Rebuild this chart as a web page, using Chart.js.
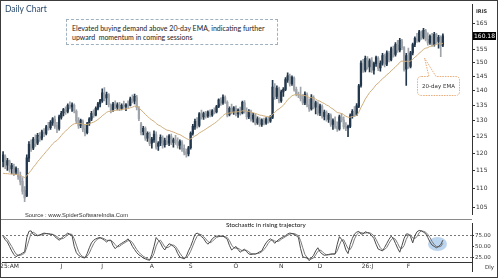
<!DOCTYPE html>
<html><head><meta charset="utf-8">
<script src="https://cdn.jsdelivr.net/npm/chart.js@4.4.1/dist/chart.umd.min.js"></script>
<style>
html,body{margin:0;padding:0;background:#fff;}
#wrap{position:relative;width:500px;height:280px;overflow:hidden;background:#fff;}
canvas{position:absolute;}
.t{position:absolute;white-space:nowrap;line-height:1;}
</style></head><body>
<div id="wrap">
  <div id="ellipse" style="position:absolute;left:428px;top:237px;width:19px;height:14px;border-radius:50%;background:#bcd5ee;"></div>
  <canvas id="price" width="498" height="219" style="left:0;top:0;width:498px;height:219px"></canvas>
  <canvas id="stoch" width="498" height="59" style="left:0;top:219px;width:498px;height:59px"></canvas>
  <div style="position:absolute;left:0;top:219px;width:472px;height:1px;background:#8a8a8a"></div>
  <div style="position:absolute;left:472px;top:262px;width:1px;height:10px;background:#333"></div>

  <div class="t" style="left:5px;top:4px;font:8.5px Lato,'Open Sans',sans-serif;color:#2a4a6e;">Daily Chart</div>
  <div style="position:absolute;left:66px;top:19px;width:212px;height:26px;box-sizing:border-box;border:1px dashed #9fb0bf;background:#fff;"></div>
  <div class="t" style="left:72px;top:24px;font:7px Lato,sans-serif;color:#222;line-height:9px;">Elevated buying demand above 20-day EMA, indicating further<br>upward&nbsp; momentum in coming sessions</div>

  <svg style="position:absolute;left:0;top:0" width="500" height="280">
    <path d="M421.5,76.5 L429,76.5 L424.5,58 L436,76.5 L455.5,76.5 Q459.5,76.5 459.5,80.5 L459.5,91.5 Q459.5,95.5 455.5,95.5 L421.5,95.5 Q417.5,95.5 417.5,91.5 L417.5,80.5 Q417.5,76.5 421.5,76.5 Z" fill="#fff" stroke="#e39a5e" stroke-width="0.8" stroke-dasharray="1.6,1"/>
  </svg>
  <div class="t" style="left:418px;top:83px;width:41px;text-align:center;font:5.5px 'DejaVu Sans',sans-serif;color:#333;">20-day EMA</div>

  <div class="t" style="left:476px;top:8px;font:bold 5px 'DejaVu Sans',sans-serif;color:#333;">IRIS</div>
  <div id="lastLbl" class="t" style="left:473px;top:30px;width:23px;height:8px;background:#000;color:#fff;font:6px 'DejaVu Sans',sans-serif;text-align:center;line-height:8px;"></div>

  <div class="t" style="left:25px;top:212px;font:5.8px 'Liberation Sans',Arial,sans-serif;color:#333;">Source : www.SpiderSoftwareIndia.Com</div>
  <div class="t" style="left:226px;top:221px;font:6.3px Lato,sans-serif;color:#111;">Stochastic in rising trajectory</div>
  <div class="t" style="left:485px;top:264px;font:5.5px 'DejaVu Sans',sans-serif;color:#333;">Dly</div>

  <div style="position:absolute;left:0;top:0;width:498px;height:278px;box-sizing:border-box;border:1px solid #3c3c3c;pointer-events:none"></div>
</div>
<script>
// ---------- DATA ----------
const open = [117.5,119,116.5,117.5,115.5,116,114.5,115,113.5,112,
109.5,108,118.5,122.5,121.5,124,123,125,124.5,126.3,
126,128,127.8,129.3,130.5,128.5,127.5,131,132.5,133.5,
133,135,134.5,135,133,130,128.5,129.8,127.5,126.2,
129,130.5,132.5,131.8,134,135.5,136.5,139,137.5,138.5,
135,133.5,135.5,134.3,135,134,135,134.6,135.2,135,
137,136.4,137.8,134,129,126.5,127.5,124.5,125.8,123,
124,125.6,122,123,124.6,122.5,123.6,123,125,123.2,
124,123.4,122.4,123.2,121.4,120.4,119.8,121.6,126,128,
129.8,128.5,132,131.2,132.2,131.5,132.6,131.8,133.2,132.8,
134.6,136.6,135.8,137.6,136,132,134,132.8,134,132.2,
133.4,132.5,135.8,133,131.2,132.8,130.5,131.6,129.3,130.5,
128.8,130,129.2,130.4,129.8,131,141,138,140.6,136.5,
139.5,140.4,143.6,145,142.4,144.4,140.4,138.8,138.4,137.2,
135.8,138.6,135.2,133.8,137.6,134.4,135.6,132.4,134.6,131.4,
132.6,130.4,131.6,128.8,129.8,128.2,127.4,131,130.2,128,
127.6,128.2,131.6,133,132,134.6,141.8,149.6,147.2,151.4,
148.4,150.6,147.2,149.6,151.6,148,149.8,152.4,149.4,153.4,
151,155,153,156.6,154.6,158.2,155.6,147.6,152.6,148.6,
153.6,156.8,159,158.2,161.6,159.6,162.2,158.8,157.4,160,
156.8,160.6,158,159.6,156.6];
const high = [120.5,119.5,118.5,118,117,116.8,116,115.6,114.5,113,
110.5,119.5,123.5,124,124.8,125.5,126,126.2,127,127.5,
128.5,129.5,130,131,131.5,129.5,131.8,133,134,134.5,
135.5,136.2,135.8,135.5,133.5,131,130.5,130.3,128.5,129.5,
131,133,133.5,134.5,136,137,140.6,141,139.5,139,
135.5,136,136.5,135.8,136,135.5,136.4,135.6,136.5,137.8,
138.5,138.8,138.4,134.6,129.5,128.2,128,126.5,126.4,124.8,
126.8,126.5,123.5,125.5,125.2,124.5,125.2,125.6,125.8,124.5,
125.4,124.6,124,123.8,122.5,121.2,122,126.5,128.8,130.5,
131,132.6,133.4,132.8,133,133.2,133.5,133.6,134.2,135,
137.2,137.5,138.5,138.2,136.5,134.5,135.4,134.6,134.8,133.8,
134.4,136.4,136.6,134.2,133.6,133.4,132.4,132.2,131.2,131,
130.6,130.8,131,131.2,131.6,143.6,142.4,141.6,141.2,140.2,
141,144.5,146.2,145.8,145.2,144.8,141.2,139.5,141.2,138.6,
139.6,139.2,137.2,138.6,138.2,136.4,136.2,135.4,135.2,133.4,
133.2,132.4,132.2,130.6,131.2,129.6,131.8,132.4,131.2,129.4,
128.6,132.2,133.6,134.6,135.6,142.2,150.6,151.2,152.4,152.2,
151.4,151.8,150.2,152.4,152.2,150.6,153.4,153.2,154.4,154.2,
155.8,156.2,157.6,158.4,159.2,158.8,156,153.4,155.4,154.2,
157.4,159.8,161.2,162.4,162.2,163.2,162.8,161.4,160.6,161.2,
161.6,161.2,160.4,160.2,161];
const low = [116,115.5,115,114.5,114,113.5,113.8,112.5,111,108.5,
106.5,107.8,117.5,120.5,121,122,122.5,123.5,124,125,
125.5,127,127.2,128.5,127.5,126.2,127,130.5,131.5,132,
132.5,133.8,133,132.5,129,127.5,127.8,126.5,125.2,125.8,
128.5,130,131,131.5,133.5,134.5,136,136.5,135.2,134.5,
132.5,133,133.8,133.5,133.2,133.5,134,133.2,134.2,134.8,
135.8,135.5,133.5,130,125.5,125.5,123.8,123.5,122.2,121.5,
123.2,121.2,120.8,122.2,121.5,121.8,122.5,122.2,122.5,121.8,
122.6,121.5,121.2,120.5,119.5,118.8,119.2,121.2,125.4,127.2,
127.6,128,130.5,130.4,130.8,131,131.2,131.4,132.2,132.5,
134.2,135,135.3,135.6,131.2,131.5,132.2,132,131.5,131,
131.8,132.2,132.4,130.5,130.6,129.8,129.5,128.6,128.8,128.2,
128.2,128.6,128.8,129.2,129.4,130.6,137,137.2,135.8,136,
138,140,142.8,141.5,141.8,139.8,138.2,137.6,136.5,135.2,
135.2,134.5,133,133.4,133.8,132.2,131.8,131.6,130.8,130.2,
129.8,129.4,128.2,127.2,127.5,126.6,127,129.6,127.4,126.8,
125,127.8,130.8,131.4,131.6,134.2,141.2,146.4,146.6,147.6,
146.6,146.4,145.8,148.6,147,146.8,149,148.4,148.8,150.2,
150.6,152,152.4,153.8,154,154.8,146.8,141.8,147.8,148,
152.8,156,157.6,157.8,158.8,159,158.2,156.6,156.8,156.2,
156.2,157.2,155.4,152.2,156];
const close = [119.5,116.2,117.8,115.2,116.4,114.2,115.5,113.2,111.8,109.2,
107.5,118.6,122.6,121.2,124.2,122.8,125.4,124.1,126.5,125.8,
128,127.6,129.5,130.6,128.2,127.2,131.2,132.4,133.6,132.8,
135,134.3,135.2,133.2,129.8,128.3,130,127.2,126,129,
130.6,132.4,131.6,134,135.5,136.6,139.2,137.2,138.6,135.2,
133.4,135.4,134.2,135.2,133.8,135,134.6,135.2,134.8,137.2,
136.2,138,134.2,130.6,126.2,127.6,124.4,126,122.8,124.2,
125.8,121.8,123,124.8,122.2,123.8,122.9,125.2,123.2,124,
123.4,122.2,123.5,121.2,120.2,119.6,121.6,126,128.2,129.8,
128.4,132.2,131.2,132.3,131.4,132.8,131.8,133.2,132.8,134.6,
136.8,135.6,137.8,136.2,131.8,134,132.8,134.2,132.2,133.4,
132.4,136,133,131.2,133,130.4,131.8,129.2,130.6,128.8,
130.2,129.2,130.5,129.8,131.2,141.2,137.8,140.8,136.4,139.6,
140.4,143.8,145.2,142.2,144.6,140.4,138.8,138.4,137.2,135.8,
138.8,135.2,133.8,137.8,134.4,135.8,132.4,134.8,131.4,132.8,
130.4,131.8,128.8,130,128.2,127.4,131.2,130.2,128,127.6,
128.2,131.6,133,132,134.8,141.6,149.8,147.2,151.6,148.4,
150.6,147.2,149.6,151.8,147.8,149.8,152.6,149.2,153.6,151,
155.2,152.8,156.8,154.6,158.4,155.6,147.4,152.6,148.6,153.6,
156.8,159.2,158.2,161.8,159.6,162.4,158.8,157.4,160,156.8,
160.8,158,159.6,156.4,160.18];
const ema20 = [114.2,114.1,114.1,114.0,114.0,113.9,113.9,113.8,113.6,113.3,
113.0,113.5,114.3,115.0,115.9,116.6,117.5,118.2,119.0,119.7,
120.5,121.2,122.0,122.8,123.4,123.8,124.5,125.3,126.1,126.7,
127.4,128.0,128.6,129.0,129.1,129.0,129.1,128.9,128.7,128.8,
129.0,129.3,129.5,129.9,130.4,130.9,131.6,132.1,132.7,133.0,
133.0,133.2,133.3,133.5,133.5,133.6,133.7,133.8,133.9,134.2,
134.4,134.7,134.6,134.2,133.4,132.8,132.0,131.4,130.7,130.2,
129.8,129.1,128.6,128.3,127.8,127.4,127.0,126.9,126.6,126.4,
126.1,125.8,125.6,125.2,124.8,124.4,124.1,124.3,124.7,125.2,
125.5,126.1,126.5,126.9,127.3,127.8,128.2,128.7,129.1,129.6,
130.3,130.9,131.6,132.2,132.3,132.5,132.6,132.8,132.8,132.9,
132.9,133.2,133.2,133.0,133.0,132.7,132.6,132.3,132.1,131.8,
131.7,131.5,131.4,131.2,131.2,132.1,132.6,133.4,133.8,134.4,
135.0,135.9,136.9,137.5,138.2,138.5,138.6,138.6,138.5,138.3,
138.3,138.0,137.6,137.6,137.3,137.1,136.6,136.4,135.9,135.6,
135.1,134.8,134.2,133.8,133.2,132.6,132.5,132.3,131.9,131.4,
131.1,131.1,131.3,131.4,131.7,132.7,134.3,135.6,137.1,138.2,
139.3,140.1,141.0,142.0,142.6,143.3,144.2,144.7,145.6,146.1,
147.0,147.6,148.5,149.1,150.1,150.6,150.3,150.5,150.3,150.6,
151.2,152.0,152.6,153.5,154.1,155.0,155.4,155.6,156.1,156.2,
156.6,156.8,157.1,157.0,157.3];
const stochK = [73,65,60,50,40,32,27,30,32,35,
38,70,84,85,77,75,74,76,78,80,
79,78,77,77,72,68,64,68,73,76,
80,77,74,50,36,30,27,25,24,34,
47,58,64,67,69,70,67,64,60,64,
64,52,45,50,54,57,60,63,67,60,
50,43,36,31,28,24,22,20,19,32,
50,70,64,58,48,42,50,56,54,50,
45,34,26,24,22,28,40,50,63,77,
80,77,72,68,60,55,60,67,71,73,
73,73,73,70,66,52,42,46,50,43,
37,41,44,38,33,32,33,33,35,38,
40,50,58,64,67,63,57,62,66,69,
72,74,78,80,79,77,74,70,45,27,
25,24,18,24,30,40,47,38,33,30,
31,32,33,33,33,55,72,66,58,42,
34,54,68,78,82,84,78,78,83,81,
79,74,68,55,44,42,40,48,57,66,
73,68,57,46,37,52,68,78,78,72,
58,74,83,86,85,82,79,70,60,53,
50,47,50,54,64];
const stochD = [75,70,66,58,50,41,33,30,30,32,
35,48,64,80,82,79,75,75,76,78,
79,79,78,77,75,72,68,67,68,72,
76,78,77,67,53,39,31,27,25,28,
35,46,56,63,67,69,69,67,64,63,
63,60,54,49,50,54,57,60,63,63,
59,51,43,37,32,28,25,22,20,24,
34,51,61,64,57,49,47,49,53,53,
50,43,35,28,24,25,30,39,51,63,
73,78,76,72,67,61,58,61,66,70,
72,73,73,72,70,63,53,47,46,46,
43,40,41,41,38,34,33,33,34,35,
38,43,49,57,63,65,62,61,62,66,
69,72,75,77,79,79,77,74,63,47,
32,25,22,22,24,31,39,42,39,34,
31,31,32,33,33,40,53,64,65,55,
45,43,52,67,76,81,81,80,80,81,
81,78,74,66,56,47,42,43,48,57,
65,69,66,57,47,45,52,66,75,76,
69,68,72,81,85,84,82,77,70,61,
54,50,49,50,57];
const priceTicks = [105,110,115,120,125,130,135,140,145,150,155,160,165];
const stochTicks = [25,50,75];
const monthLabels = ['25:AM','J','J','A','S','O','N','D','26:J','F'];
const monthIdx = [3,27,46,69,87,108,129,147,169,188];
const totalSlots = 218;

// ---------- BUILD ----------
const UP = '#22374b', DOWN = '#9ea4aa';
const labels = Array.from({length: totalSlots}, (_, i) => i);
const candleColors = close.map((c, i) => c >= open[i] ? UP : DOWN);
const wicks = low.map((l, i) => [l, high[i]]);
const bodies = open.map((o, i) => [o, close[i]]);
const tickMap = {};
monthIdx.forEach((ix, k) => { tickMap[ix] = monthLabels[k]; });
const axisFont = {family: "'DejaVu Sans', sans-serif", size: 6};

const priceChart = new Chart(document.getElementById('price'), {
  type: 'bar',
  data: {
    labels,
    datasets: [
      {type: 'line', data: ema20, borderColor: '#cfae7c', borderWidth: 1, pointRadius: 0, tension: 0, order: 0},
      {data: bodies, backgroundColor: candleColors, barThickness: 1.6, grouped: false, order: 1},
      {data: wicks, backgroundColor: candleColors, barThickness: 1, grouped: false, order: 2}
    ]
  },
  options: {
    responsive: false, animation: false, events: [],
    layout: {padding: {left: 2, top: 2, right: 0, bottom: 0}},
    plugins: {legend: {display: false}, tooltip: {enabled: false}},
    scales: {
      x: {display: false, offset: true},
      y: {
        type: 'logarithmic', position: 'right', min: 103.2, max: 173,
        afterBuildTicks: s => { s.ticks = priceTicks.map(v => ({value: v})); },
        afterFit: s => { s.width = 26; },
        ticks: {callback: v => String(v), font: axisFont, color: '#333', padding: 1, autoSkip: false},
        grid: {drawOnChartArea: false, drawTicks: true, tickLength: 3, color: '#333'},
        border: {color: '#333', width: 1}
      }
    }
  }
});

const stochChart = new Chart(document.getElementById('stoch'), {
  type: 'line',
  data: {
    labels,
    datasets: [
      {data: stochK, borderColor: '#4a4a4a', borderWidth: 1, pointRadius: 0, tension: 0},
      {data: stochD, borderColor: '#7a7a7a', borderWidth: 1, pointRadius: 0, tension: 0}
    ]
  },
  options: {
    responsive: false, animation: false, events: [],
    layout: {padding: {left: 2, top: 0, right: 0, bottom: 0}},
    plugins: {legend: {display: false}, tooltip: {enabled: false}},
    scales: {
      x: {
        offset: true,
        grid: {display: false, drawTicks: false},
        border: {color: '#333', width: 1},
        afterFit: s => { s.height = 16; },
        ticks: {autoSkip: false, maxRotation: 0, minRotation: 0, padding: 1, font: axisFont, color: '#333',
                callback: (v, i) => tickMap[i] || ''}
      },
      y: {
        position: 'right', min: 15, max: 102,
        afterBuildTicks: s => { s.ticks = stochTicks.map(v => ({value: v})); },
        afterFit: s => { s.width = 26; },
        ticks: {callback: v => v.toFixed(2), font: {family: "'DejaVu Sans', sans-serif", size: 5.5}, color: '#333', padding: 1},
        grid: {color: c => (c.tick && c.tick.value === 50) ? 'rgba(0,0,0,0)' : '#777', tickColor: '#333', tickLength: 2, drawTicks: true},
        border: {color: '#333', width: 1, dash: [2, 2]}
      }
    }
  }
});

// last price label
const lastVal = close[close.length - 1];
const lbl = document.getElementById('lastLbl');
lbl.textContent = lastVal.toFixed(2);
lbl.style.top = (priceChart.scales.y.getPixelForValue(lastVal) - 4) + 'px';
</script>
</body></html>
